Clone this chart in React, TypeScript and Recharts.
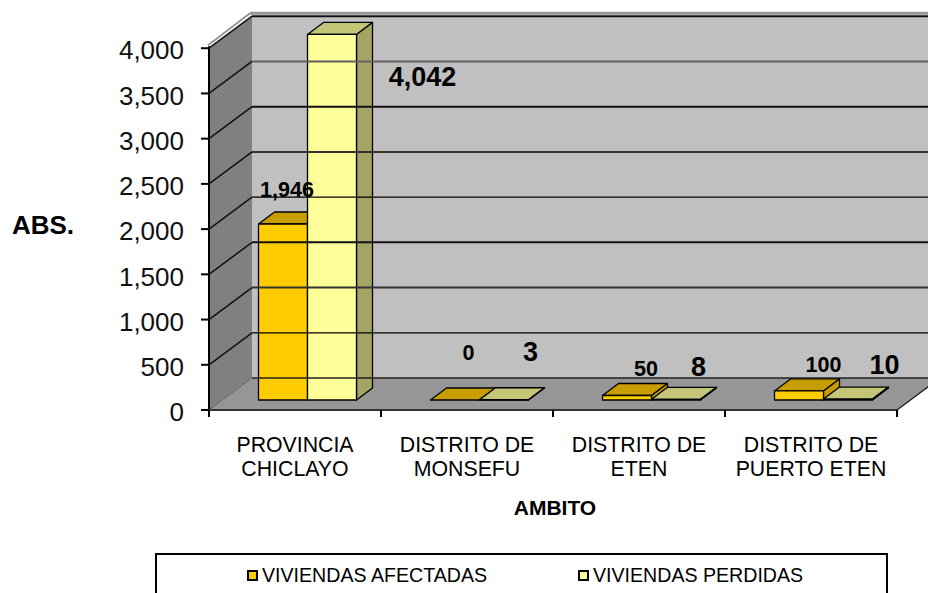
import React from 'react';
import { BarChart, Bar, XAxis, YAxis, Legend, LabelList, ReferenceArea, ReferenceLine } from 'recharts';

// data
const categories = ['PROVINCIA\nCHICLAYO', 'DISTRITO DE\nMONSEFU', 'DISTRITO DE\nETEN', 'DISTRITO DE\nPUERTO ETEN'];
const afectadas = [1946, 0, 50, 100];
const perdidas = [4042, 3, 8, 10];
const yTicks = [0, 500, 1000, 1500, 2000, 2500, 3000, 3500, 4000];

const chartData = categories.map((name, i) => ({
  name,
  afectadas: afectadas[i],
  perdidas: perdidas[i],
}));

const FONT = '"Liberation Sans", Arial, sans-serif';
const WALL_DX = 43;
const WALL_DY = -32;
const BAR_DX = 16;
const BAR_DY = -12;
// bars stand in the middle of the floor, not on the front edge
const FLOOR_DX = 12.5;
const FLOOR_DY = -10;
const BAND = 172;

// hand placed data labels, relative to the top centre of each bar
const afectadasLabelPos = [[16.5, -44], [26, -57], [31.5, -36], [37, -36]];
const perdidasLabelPos = [[103, 33], [39, -58], [35, -42], [49, -44]];

const gridStroke: Record<number, [string, number]> = {
  0: ['#222', 1.5],
  500: ['#000', 1.3],
  1000: ['#333', 2],
  1500: ['#111', 2],
  2000: ['#000', 1.3],
  2500: ['#333', 2],
  3000: ['#111', 2],
  3500: ['#606060', 2],
  4000: ['#111', 2],
};

const fmt = (v: number) => v.toLocaleString('en-US');

function Walls({ x, y, width, height }: any) {
  const bottom = y + height;
  const right = x + width;
  return (
    <g>
      <polygon
        points={`${x + WALL_DX},${y + WALL_DY} ${right + 60},${y + WALL_DY} ${right + 60},${bottom + WALL_DY} ${x + WALL_DX},${bottom + WALL_DY}`}
        fill="#c0c0c0"
      />
      <polygon
        points={`${x},${y} ${x + WALL_DX},${y + WALL_DY} ${x + WALL_DX},${bottom + WALL_DY} ${x},${bottom}`}
        fill="#808080"
      />
      <polygon
        points={`${x},${bottom} ${x + WALL_DX},${bottom + WALL_DY} ${right + WALL_DX},${bottom + WALL_DY} ${right},${bottom}`}
        fill="#969696"
      />
      <line x1={x + WALL_DX - 2} y1={y + WALL_DY - 3} x2={right + 60} y2={y + WALL_DY - 3} stroke="#969696" strokeWidth={3} />
      <line x1={x - 1} y1={y - 3} x2={x + WALL_DX - 2} y2={y + WALL_DY - 3} stroke="#969696" strokeWidth={2} />
      <line x1={x} y1={y - 2} x2={x} y2={bottom} stroke="#000" strokeWidth={2} />
      <line x1={x} y1={bottom} x2={right} y2={bottom} stroke="#333" strokeWidth={2} />
      <line x1={right} y1={bottom} x2={right + WALL_DX} y2={bottom + WALL_DY} stroke="#222" strokeWidth={1.5} />
    </g>
  );
}

function GridLine({ x1, y1, x2, tick }: any) {
  const [stroke, w] = gridStroke[tick];
  return (
    <g>
      <line x1={x1} y1={y1} x2={x1 + WALL_DX} y2={y1 + WALL_DY} stroke={tick === 0 ? '#666' : '#111'} strokeWidth={tick === 0 ? 1 : 1.5} />
      <line x1={x1 + WALL_DX} y1={y1 + WALL_DY} x2={x2 + 60} y2={y1 + WALL_DY} stroke={stroke} strokeWidth={w} />
    </g>
  );
}

function Bar3D({ x, y, width, height, fill, top, side }: any) {
  const l = x + FLOOR_DX;
  const r = l + width;
  const t = y + FLOOR_DY;
  const b = t + height;
  return (
    <g stroke="#000" strokeWidth={1.3} strokeLinejoin="round">
      <polygon points={`${l},${t} ${l + BAR_DX},${t + BAR_DY} ${r + BAR_DX},${t + BAR_DY} ${r},${t}`} fill={top} />
      <polygon points={`${r},${t} ${r + BAR_DX},${t + BAR_DY} ${r + BAR_DX},${b + BAR_DY} ${r},${b}`} fill={side} />
      <rect x={l} y={t} width={width} height={height} fill={fill} />
    </g>
  );
}

function CategoryTick({ x, y, payload, index }: any) {
  const lines = String(payload.value).split('\n');
  const left = x - BAND / 2;
  const base = y - 8; // recharts hands over the tick end, we want the axis
  return (
    <g>
      <line x1={left} y1={base} x2={left} y2={base + 7} stroke="#000" strokeWidth={2} />
      {index === categories.length - 1 && (
        <line x1={x + BAND / 2} y1={base} x2={x + BAND / 2} y2={base + 7} stroke="#000" strokeWidth={2} />
      )}
      {lines.map((line, i) => (
        <text key={line} x={x} y={base + 35 + i * 24} textAnchor="middle" dominantBaseline="central"
          fontFamily={FONT} fontSize={21.3} fill="#000">
          {line}
        </text>
      ))}
    </g>
  );
}

function dataLabel(pos: number[][], fontSize: number) {
  return ({ x, y, width, value, index }: any) => (
    <text x={x + width / 2 + pos[index][0]} y={y + pos[index][1]} textAnchor="middle" dominantBaseline="central"
      fontFamily={FONT} fontSize={fontSize} fontWeight="bold" fill="#000">
      {fmt(value)}
    </text>
  );
}

function LegendBox({ payload }: any) {
  const lefts = [90, 421];
  return (
    <div style={{ position: 'relative', width: 733, height: 60, boxSizing: 'border-box', border: '2px solid #000', background: '#fff' }}>
      {(payload || []).map((item: any, i: number) => (
        <div key={item.value} style={{ position: 'absolute', left: lefts[i], top: 9, display: 'flex', alignItems: 'center', fontFamily: FONT, fontSize: 19.6, color: '#000', whiteSpace: 'nowrap' }}>
          <span style={{ width: 7, height: 7, border: '2px solid #000', background: item.color, marginRight: 4 }} />
          {item.value}
        </div>
      ))}
    </div>
  );
}

export default function App() {
  return (
    <div style={{ position: 'absolute', left: 0, top: 0, width: 928, height: 593, overflow: 'hidden', background: '#fff' }}>
      <BarChart
        width={928}
        height={593}
        data={chartData}
        margin={{ top: 3, right: 31, left: 0, bottom: 43 }}
        barSize={49}
        barGap={0}
      >
        <ReferenceArea y1={0} y2={4000} shape={<Walls />} />
        {yTicks.map(t => (
          <ReferenceLine key={t} y={t} shape={(p: any) => <GridLine {...p} tick={t} />} />
        ))}
        <XAxis
          dataKey="name"
          height={100}
          interval={0}
          tickLine={false}
          axisLine={false}
          tick={<CategoryTick />}
          label={{
            content: () => (
              <text x={555} y={507} textAnchor="middle" dominantBaseline="central" fontFamily={FONT} fontSize={21} fontWeight="bold" fill="#000">
                AMBITO
              </text>
            ),
          }}
        />
        <YAxis
          width={209}
          domain={[0, 4500]}
          ticks={yTicks}
          interval={0}
          axisLine={false}
          tickSize={8}
          tickMargin={17}
          tickLine={{ stroke: '#000', strokeWidth: 2 }}
          tickFormatter={fmt}
          tick={{ fontFamily: FONT, fontSize: 26, fill: '#111', dy: 2 }}
          label={{
            content: () => (
              <text x={43} y={225} textAnchor="middle" dominantBaseline="central" fontFamily={FONT} fontSize={26} fontWeight="bold" fill="#000">
                ABS.
              </text>
            ),
          }}
        />
        <Legend
          content={<LegendBox />}
          height={40}
          wrapperStyle={{ left: 155, top: 553, width: 733, height: 40, overflow: 'hidden' }}
        />
        <Bar
          dataKey="afectadas"
          name="VIVIENDAS AFECTADAS"
          fill="#ffcc00"
          isAnimationActive={false}
          shape={(p: any) => <Bar3D {...p} top="#c79d00" side="#c79d00" />}
        >
          <LabelList content={dataLabel(afectadasLabelPos, 21.5)} />
        </Bar>
        <Bar
          dataKey="perdidas"
          name="VIVIENDAS PERDIDAS"
          fill="#ffff99"
          isAnimationActive={false}
          shape={(p: any) => <Bar3D {...p} top="#c5c578" side="#a5a563" />}
        >
          <LabelList content={dataLabel(perdidasLabelPos, 27)} />
        </Bar>
      </BarChart>
    </div>
  );
}
